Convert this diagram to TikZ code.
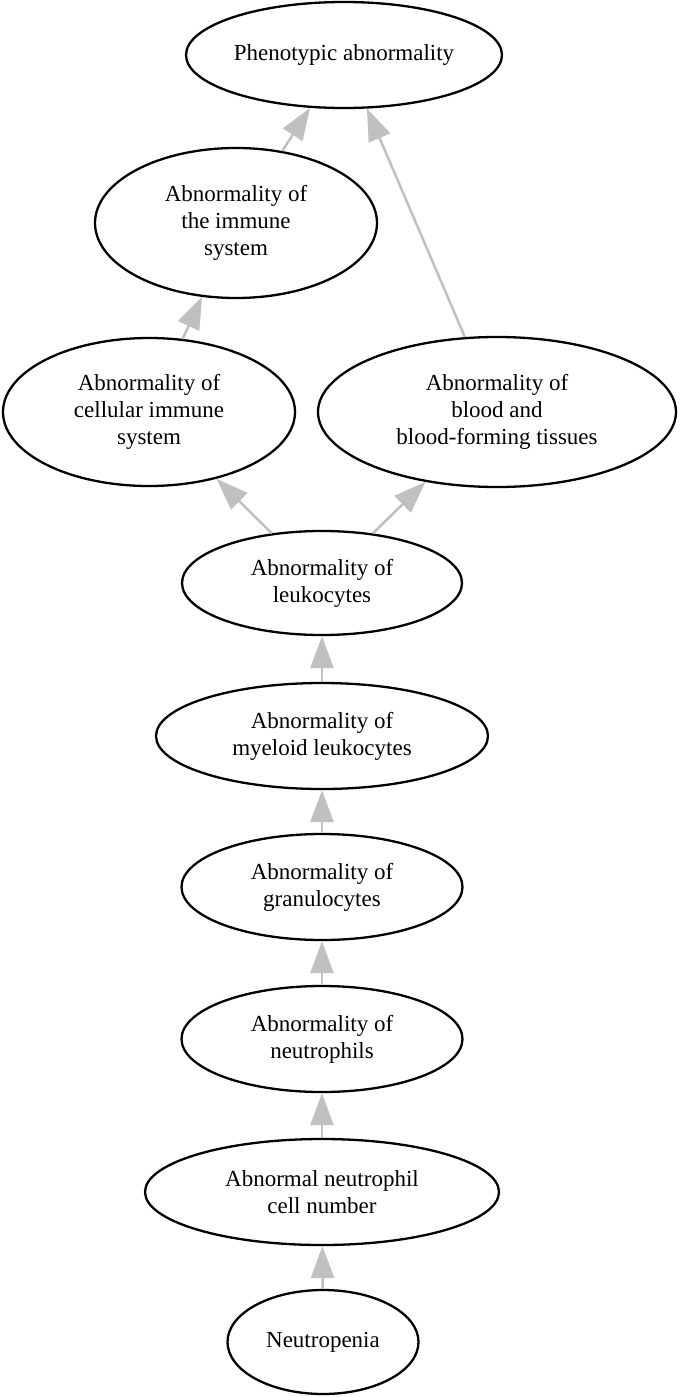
\documentclass[tikz,border=0pt]{standalone}
\usepackage{fontspec}
\setmainfont{Liberation Serif}
\usetikzlibrary{shapes.geometric,arrows.meta}
\definecolor{edgegray}{RGB}{192,192,192}
\begin{document}
\begin{tikzpicture}[x=1pt,y=-1pt,
  term/.style={ellipse,draw=black,line width=2.3pt,inner sep=0pt,align=center,
    font=\fontsize{23}{27}\selectfont},
  isa/.style={draw=edgegray,line width=2.5pt,
    -{Triangle[length=32pt,width=23pt,fill=edgegray]}}
]
\useasboundingbox[fill=white] (0,0) rectangle (681,1397);
\node[term,minimum width=316pt,minimum height=106pt] (pa) at (344,55) {Phenotypic abnormality};
\node[term,minimum width=282pt,minimum height=150pt] (imm) at (236,223) {Abnormality of\\the immune\\system};
\node[term,minimum width=292pt,minimum height=148pt] (cell) at (149,412) {Abnormality of\\cellular immune\\system};
\node[term,minimum width=358pt,minimum height=150pt] (blood) at (497,412) {Abnormality of\\blood and\\blood-forming tissues};
\node[term,minimum width=280pt,minimum height=104pt] (leuk) at (322,583) {Abnormality of\\leukocytes};
\node[term,minimum width=332pt,minimum height=106pt] (mye) at (322,736) {Abnormality of\\myeloid leukocytes};
\node[term,minimum width=281pt,minimum height=106pt] (gran) at (322,887) {Abnormality of\\granulocytes};
\node[term,minimum width=281pt,minimum height=106pt] (neut) at (322,1039) {Abnormality of\\neutrophils};
\node[term,minimum width=354pt,minimum height=106pt] (num) at (322,1192) {Abnormal neutrophil\\cell number};
\node[term,minimum width=191pt,minimum height=104pt] (np) at (323,1342) {Neutropenia};
\draw[isa] (imm) -- (pa);
\draw[isa] (blood) -- (pa);
\draw[isa] (cell) -- (imm);
\draw[isa] (leuk) -- (cell);
\draw[isa] (leuk) -- (blood);
\draw[isa] (mye) -- (leuk);
\draw[isa] (gran) -- (mye);
\draw[isa] (neut) -- (gran);
\draw[isa] (num) -- (neut);
\draw[isa] (np) -- (num);
\end{tikzpicture}
\end{document}
